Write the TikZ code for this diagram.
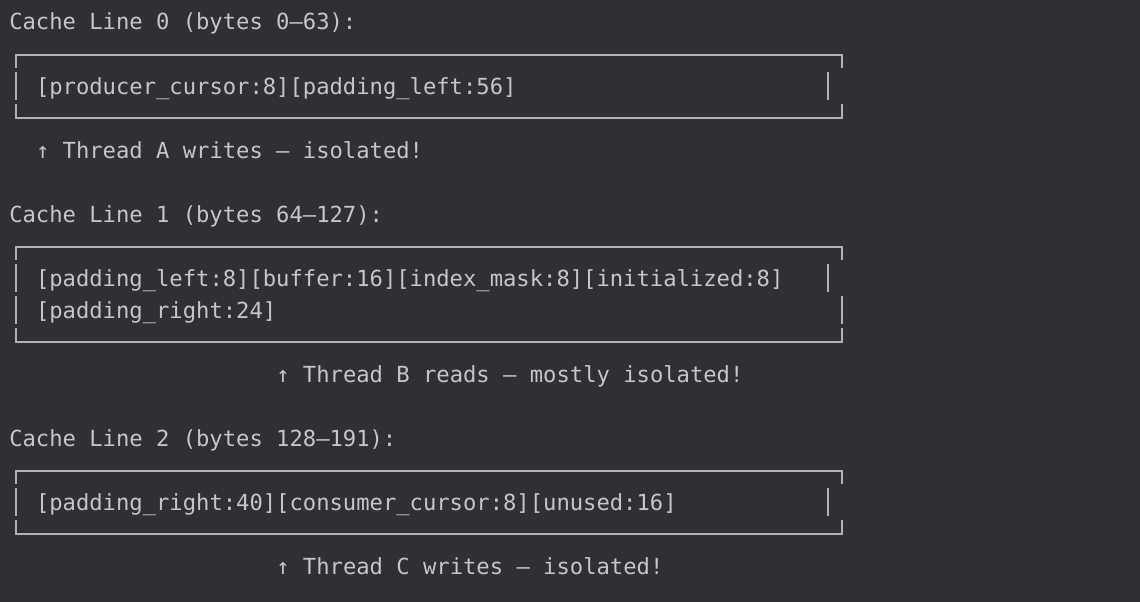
\documentclass[tikz,border=0pt]{standalone}
\usepackage{fontspec}
\setmonofont{DejaVu Sans Mono}
\newcommand\usc{\string_}
\definecolor{termbg}{RGB}{47,48,53}
\definecolor{termfg}{RGB}{198,198,200}
\definecolor{boxln}{RGB}{178,178,180}
\begin{document}
\begin{tikzpicture}[x=1pt,y=-1pt,
  txt/.style={anchor=base west,inner sep=0pt,outer sep=0pt,text=termfg,
    font=\ttfamily\fontsize{22.17pt}{26pt}\selectfont},
  boxline/.style={draw=boxln,line width=2.2pt,line cap=butt}]
\fill[termbg] (0,0) rectangle (1140,602);
\useasboundingbox (0,0) rectangle (1140,602);
% ---- Cache line 0 ----
\node[txt] (h0) at (9.3,30) {Cache Line 0 (bytes 0–63):};
\node[txt] (c0) at (36,94) {[producer\usc cursor:8][padding\usc left:56]};
\node[txt] (t0) at (36,158) {↑ Thread A writes – isolated!};
\draw[boxline] (16,68) -- (16,55) -- (842,55) -- (842,68);
\draw[boxline] (16,72) -- (16,100);
\draw[boxline] (828,72) -- (828,100);
\draw[boxline] (16,104) -- (16,118) -- (842,118) -- (842,104);
% ---- Cache line 1 ----
\node[txt] (h1) at (9.3,222) {Cache Line 1 (bytes 64–127):};
\node[txt] (c1a) at (36,286) {[padding\usc left:8][buffer:16][index\usc mask:8][initialized:8]};
\node[txt] (c1b) at (36,318) {[padding\usc right:24]};
\node[txt] (t1) at (276.3,382) {↑ Thread B reads – mostly isolated!};
\draw[boxline] (16,260) -- (16,247) -- (842,247) -- (842,260);
\draw[boxline] (16,264) -- (16,292);
\draw[boxline] (828,264) -- (828,292);
\draw[boxline] (16,296) -- (16,324);
\draw[boxline] (842,296) -- (842,324);
\draw[boxline] (16,328) -- (16,342) -- (842,342) -- (842,328);
% ---- Cache line 2 ----
\node[txt] (h2) at (9.3,446) {Cache Line 2 (bytes 128–191):};
\node[txt] (c2) at (36,510) {[padding\usc right:40][consumer\usc cursor:8][unused:16]};
\node[txt] (t2) at (276.3,574) {↑ Thread C writes – isolated!};
\draw[boxline] (16,484) -- (16,471) -- (842,471) -- (842,484);
\draw[boxline] (16,488) -- (16,516);
\draw[boxline] (828,488) -- (828,516);
\draw[boxline] (16,520) -- (16,534) -- (842,534) -- (842,520);
\end{tikzpicture}
\end{document}
